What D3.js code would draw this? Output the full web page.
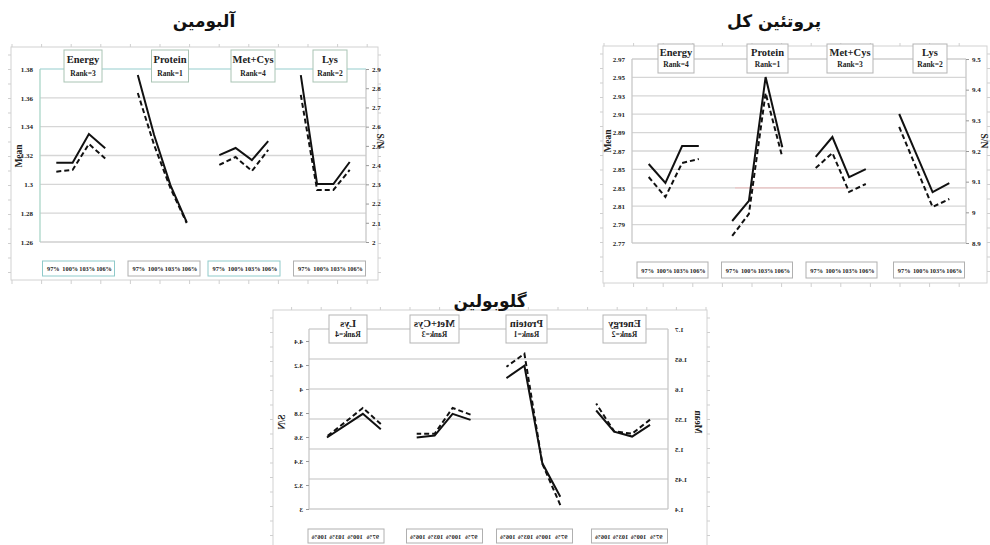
<!DOCTYPE html>
<html>
<head>
<meta charset="utf-8">
<script src="https://cdn.jsdelivr.net/npm/d3@7"></script>
<style>
  body { margin: 0; background: #fff; }
  svg { display: block; }
  text { font-family: "Liberation Serif", "Times New Roman", serif; font-weight: bold; fill: #222; }
  .fa { font-family: "DejaVu Sans", sans-serif; font-weight: bold; fill: #111; }
</style>
</head>
<body>
<svg id="chart" width="990" height="545"></svg>
<script>
// Factor levels and factors of the Taguchi main-effects plots
const levels = ["97%", "100%", "103%", "106%"];
const factors = ["Energy", "Protein", "Met+Cys", "Lys"];

// Albumin (آلبومین): means and S/N ratios, ordered Energy, Protein, Met+Cys, Lys × 97..106%
const albuminRanks = [3, 1, 4, 2];
const albuminMean = [1.315, 1.315, 1.3349, 1.325, 1.3758, 1.3342, 1.2995, 1.2738,
                     1.3203, 1.3252, 1.3168, 1.330, 1.3758, 1.3002, 1.3002, 1.3155];
const albuminSN = [2.366, 2.375, 2.510, 2.435, 2.775, 2.505, 2.281, 2.099,
                   2.401, 2.442, 2.369, 2.479, 2.765, 2.271, 2.271, 2.375];
const albuminMeanTicks = [1.26, 1.28, 1.30, 1.32, 1.34, 1.36, 1.38];
const albuminSNTicks = [2, 2.1, 2.2, 2.3, 2.4, 2.5, 2.6, 2.7, 2.8, 2.9];

// Total protein (پروتئین کل)
const totalRanks = [4, 1, 3, 2];
const totalMean = [2.8559, 2.8352, 2.8754, 2.8754, 2.7939, 2.8157, 2.9504, 2.874,
                   2.8635, 2.8852, 2.8417, 2.8504, 2.9102, 2.8678, 2.8254, 2.8352];
const totalSN = [9.1152, 9.050, 9.1609, 9.1739, 8.923, 8.995, 9.389, 9.180,
                 9.1446, 9.1935, 9.0663, 9.0924, 9.2783, 9.1478, 9.0174, 9.0435];
const totalMeanTicks = [2.77, 2.79, 2.81, 2.83, 2.85, 2.87, 2.89, 2.91, 2.93, 2.95, 2.97];
const totalSNTicks = [8.9, 9, 9.1, 9.2, 9.3, 9.4, 9.5];

// Globulin (گلوبولین)
const globulinRanks = [2, 1, 3, 4];
const globulinMean = [1.5402, 1.5207, 1.529, 1.5642, 1.4204, 1.4761, 1.6387, 1.6182,
                      1.5486, 1.5586, 1.5224, 1.5191, 1.533, 1.5586, 1.539, 1.5191];
const globulinSN = [3.7446, 3.6275, 3.647, 3.8785, 3.033, 3.3765, 4.294, 4.185,
                    3.7865, 3.842, 3.6275, 3.6275, 3.708, 3.842, 3.722, 3.605];
const globulinMeanTicks = [1.4, 1.45, 1.5, 1.55, 1.6, 1.65, 1.7];
const globulinSNTicks = [3, 3.2, 3.4, 3.6, 3.8, 4, 4.2, 4.4];

// Category slots: a spacer before, between and after the four factor groups
const slots = ["s0"];
factors.forEach((f, i) => {
  levels.forEach(l => slots.push(f + " " + l));
  slots.push("s" + (i + 1));
});

const fmt = d => String(+d.toFixed(3));
const svg = d3.select("#chart");

function drawPanel(p) {
  const g = svg.append("g")
    .attr("transform", p.mirror ? `translate(${p.mirror},0) scale(-1,1)` : null);
  const f = p.frame, pl = p.plot;

  // outer chart frame with small spreadsheet-like ticks
  g.append("rect").attr("x", f.l).attr("y", f.t)
    .attr("width", f.r - f.l).attr("height", f.b - f.t)
    .attr("fill", "#fff").attr("stroke", "#d2d2d2").attr("stroke-width", 1);
  const ft = g.append("g").attr("stroke", "#cfcfcf").attr("stroke-width", 1);
  d3.range(f.t + 8, f.b, 14.5).forEach(y => {
    ft.append("line").attr("x1", f.l - 3).attr("x2", f.l).attr("y1", y).attr("y2", y);
    ft.append("line").attr("x1", f.r).attr("x2", f.r + 3).attr("y1", y).attr("y2", y);
  });
  d3.range(f.l + 1, f.r, 29.6).forEach(x => {
    ft.append("line").attr("x1", x).attr("x2", x).attr("y1", f.t - 3).attr("y2", f.t);
    ft.append("line").attr("x1", x).attr("x2", x).attr("y1", f.b).attr("y2", f.b + 4);
  });

  const x = d3.scalePoint().domain(slots).range([pl.l, pl.r]);
  const yM = d3.scaleLinear().domain(d3.extent(p.meanTicks)).range([pl.b, pl.t]);
  const yS = d3.scaleLinear().domain(p.snDomain).range([pl.b, pl.t]);

  // horizontal gridlines at the Mean ticks
  g.append("g").selectAll("line").data(p.meanTicks.slice(1)).join("line")
    .attr("x1", pl.l).attr("x2", pl.r)
    .attr("y1", d => yM(d)).attr("y2", d => yM(d))
    .attr("stroke", (d, i, a) => i === a.length - 1 ? p.topColor : "#d6d6d6")
    .attr("stroke-width", 1.3);
  if (p.pinkLine) {
    g.append("line").attr("x1", p.pinkLine[1]).attr("x2", p.pinkLine[2])
      .attr("y1", yM(p.pinkLine[0])).attr("y2", yM(p.pinkLine[0]))
      .attr("stroke", "#ecc4c4").attr("stroke-width", 1.3);
  }
  // axis frame lines
  g.append("line").attr("x1", pl.l).attr("x2", pl.r).attr("y1", pl.b).attr("y2", pl.b)
    .attr("stroke", "#cfcfcf").attr("stroke-width", 1.3);
  g.append("line").attr("x1", pl.l).attr("x2", pl.l).attr("y1", pl.t).attr("y2", pl.b)
    .attr("stroke", p.leftColor).attr("stroke-width", 1.3);
  g.append("line").attr("x1", pl.r).attr("x2", pl.r).attr("y1", pl.t).attr("y2", pl.b)
    .attr("stroke", "#c8c8c8").attr("stroke-width", 1.3);

  // left (Mean) and right (S/N) axes
  const ax = g.append("g").attr("transform", `translate(${pl.l},0)`)
    .call(d3.axisLeft(yM).tickValues(p.meanTicks).tickSize(0).tickPadding(7).tickFormat(fmt));
  const ay = g.append("g").attr("transform", `translate(${pl.r},0)`)
    .call(d3.axisRight(yS).tickValues(p.snTicks).tickSize(3).tickPadding(3).tickFormat(fmt));
  [ax, ay].forEach(a => {
    a.select(".domain").remove();
    a.selectAll(".tick line").attr("stroke", "#999");
    a.selectAll(".tick text").style("font-family", "'Liberation Serif', serif")
      .style("font-weight", "bold").style("font-size", "7px").attr("fill", "#333");
  });

  // axis titles
  g.append("text").attr("transform", `translate(${p.meanTitle[0]},${p.meanTitle[1]}) rotate(-90)`)
    .attr("text-anchor", "middle").style("font-size", "9.5px").text("Mean");
  g.append("text").attr("transform", `translate(${p.snTitle[0]},${p.snTitle[1]}) rotate(90)`)
    .attr("text-anchor", "middle").style("font-size", "9.5px").text("S/N");

  // main-effect lines: solid = Mean (left axis), dashed = S/N (right axis)
  factors.forEach((fac, fi) => {
    const pts = levels.map((lv, li) => ({
      key: fac + " " + lv, m: p.mean[fi * 4 + li], s: p.sn[fi * 4 + li]
    }));
    g.append("path").datum(pts)
      .attr("d", d3.line().x(d => x(d.key)).y(d => yS(d.s)))
      .attr("fill", "none").attr("stroke", "#111").attr("stroke-width", 2)
      .attr("stroke-dasharray", "5,3");
    g.append("path").datum(pts)
      .attr("d", d3.line().x(d => x(d.key)).y(d => yM(d.m)))
      .attr("fill", "none").attr("stroke", "#111").attr("stroke-width", 2);
  });

  // factor name / rank boxes across the top
  factors.forEach((fac, fi) => {
    const cx = p.topBox.cx[fi], w = p.topBox.w[fi];
    g.append("rect").attr("x", cx - w / 2).attr("y", p.topBox.y)
      .attr("width", w).attr("height", p.topBox.h)
      .attr("fill", "#fff").attr("stroke", p.topBox.stroke).attr("stroke-width", 1);
    g.append("text").attr("x", cx).attr("y", p.topBox.y + p.topBox.h * 0.42)
      .attr("text-anchor", "middle").style("font-size", "10.5px").text(fac);
    g.append("text").attr("x", cx).attr("y", p.topBox.y + p.topBox.h * 0.8)
      .attr("text-anchor", "middle").style("font-size", "7.5px").text("Rank=" + p.ranks[fi]);
  });

  // level boxes along the bottom
  factors.forEach((fac, fi) => {
    const cx = p.botBox.cx[fi], w = p.botBox.w, x0 = cx - w / 2;
    g.append("rect").attr("x", x0).attr("y", p.botBox.y)
      .attr("width", w).attr("height", p.botBox.h)
      .attr("fill", "#fff").attr("stroke", p.botBox.strokes[fi]).attr("stroke-width", 1);
    levels.forEach((lv, li) => {
      g.append("text").attr("x", x0 + w * (0.15 + li * 0.235)).attr("y", p.botBox.y + p.botBox.h * 0.68)
        .attr("text-anchor", "middle").style("font-size", "6.3px").text(lv);
    });
  });
}

drawPanel({
  frame: { l: 11, r: 378, t: 47, b: 280 },
  plot: { l: 40, r: 366, t: 69, b: 242 },
  meanTicks: albuminMeanTicks, snTicks: albuminSNTicks, snDomain: [2, 2.9],
  mean: albuminMean, sn: albuminSN, ranks: albuminRanks,
  topColor: "#b9dede", leftColor: "#aad6c8",
  meanTitle: [22, 156], snTitle: [377, 141],
  topBox: { cx: [83, 170, 253, 330], w: [38, 37, 44, 34], y: 50, h: 32, stroke: "#a9c4b4" },
  botBox: { cx: [78.5, 164, 244, 329.5], w: 72, y: 261, h: 15,
            strokes: ["#8fcaca", "#b0b0b0", "#8fcaca", "#b0b0b0"] }
});

drawPanel({
  frame: { l: 603, r: 987, t: 46, b: 283 },
  plot: { l: 632, r: 966, t: 59, b: 243 },
  meanTicks: totalMeanTicks, snTicks: totalSNTicks, snDomain: [8.9, 9.5],
  mean: totalMean, sn: totalSN, ranks: totalRanks,
  topColor: "#cfcfcf", leftColor: "#c8c8c8", pinkLine: [2.83, 735, 848],
  meanTitle: [611, 141], snTitle: [981, 141],
  topBox: { cx: [676, 767.5, 850, 930], w: [36, 41, 46, 34], y: 44, h: 29, stroke: "#b5b5b5" },
  botBox: { cx: [672.5, 757, 841.5, 929], w: 71, y: 262, h: 16,
            strokes: ["#b0b0b0", "#b0b0b0", "#b0b0b0", "#b0b0b0"] }
});

// globulin panel is shown mirrored left-to-right
drawPanel({
  mirror: 977,
  frame: { l: 270, r: 704, t: 310, b: 560 },
  plot: { l: 309, r: 668, t: 329, b: 509 },
  meanTicks: globulinMeanTicks, snTicks: globulinSNTicks, snDomain: [3, 4.5],
  mean: globulinMean, sn: globulinSN, ranks: globulinRanks,
  topColor: "#d2d2d2", leftColor: "#c8c8c8",
  meanTitle: [282, 422], snTitle: [692, 422],
  topBox: { cx: [352.5, 450.5, 542.5, 629], w: [43, 41, 49, 38], y: 315, h: 28, stroke: "#b5b5b5" },
  botBox: { cx: [347.5, 442.5, 532.5, 631], w: 76, y: 529, h: 14,
            strokes: ["#b0b0b0", "#b0b0b0", "#b0b0b0", "#b0b0b0"] }
});

// panel titles
svg.append("text").attr("class", "fa").attr("x", 204).attr("y", 27)
  .attr("text-anchor", "middle").style("font-size", "17px").text("آلبومین");
svg.append("text").attr("class", "fa").attr("x", 774).attr("y", 27)
  .attr("text-anchor", "middle").style("font-size", "17px").text("پروتئین کل");
svg.append("text").attr("class", "fa").attr("x", 490).attr("y", 307)
  .attr("text-anchor", "middle").style("font-size", "17px").text("گلوبولین");
</script>
</body>
</html>
